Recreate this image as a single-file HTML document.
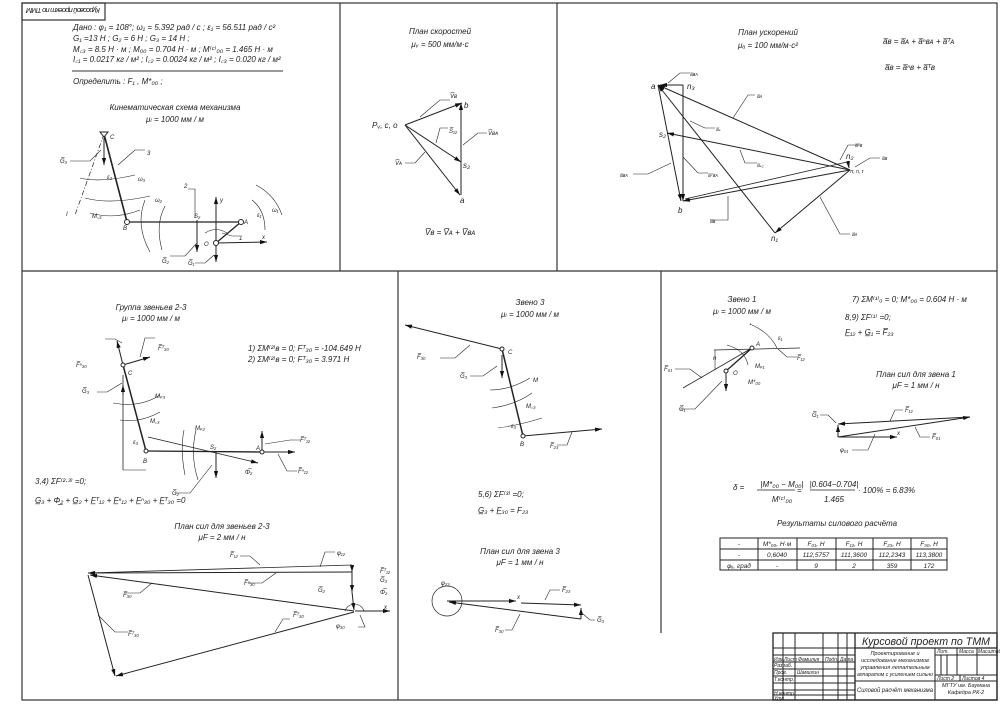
<!DOCTYPE html>
<html><head><meta charset="utf-8"><style>
html,body{margin:0;padding:0;background:#fff}
svg{display:block}
text{font-family:"Liberation Sans","DejaVu Sans",sans-serif;font-style:italic;fill:#222}
</style></head><body>
<svg width="1000" height="704" viewBox="0 0 1000 704" xmlns="http://www.w3.org/2000/svg">
<defs>
<marker id="ar" viewBox="0 0 10 10" refX="10" refY="5" markerWidth="7" markerHeight="7" orient="auto-start-reverse"><path d="M0,2 L10,5 L0,8z" fill="#111"/></marker>
<marker id="as" viewBox="0 0 10 10" refX="10" refY="5" markerWidth="4" markerHeight="4" orient="auto"><path d="M0,2 L10,5 L0,8z" fill="#111"/></marker>
</defs>
<g fill="none" stroke="#333" stroke-width="1.2">
<rect x="22" y="3" width="975" height="697"/>
<line x1="22" y1="271" x2="997" y2="271"/>
<line x1="340" y1="3" x2="340" y2="271"/>
<line x1="557" y1="3" x2="557" y2="271"/>
<line x1="398" y1="271" x2="398" y2="700"/>
<line x1="661" y1="271" x2="661" y2="633"/>
<rect x="22" y="3" width="83" height="17"/>
</g>
<text x="63" y="15" font-size="7.5" text-anchor="middle" textLength="74" transform="rotate(180 63 11.5)">Курсовой проект по ТММ</text>

<!-- top-left text -->
<g font-size="8">
<text x="73" y="30">Дано : φ₁ = 108°; ω₁ = 5.392 рад / с ; ε₁ = 56.511 рад / с²</text>
<text x="73" y="41">G₁ =13 Н ; G₂ = 6 Н ; G₃ = 14 Н ;</text>
<text x="73" y="52">M꜀₃ = 8.5 Н · м ; M₀₀ = 0.704 Н · м ; M⁽ᶜ⁾₀₀ = 1.465 Н · м</text>
<text x="73" y="62">I꜀₁ = 0.0217 кг / м² ; I꜀₂ = 0.0024 кг / м² ; I꜀₃ = 0.020 кг / м²</text>
<text x="73" y="84">Определить : F₁ , M*₀₀ ;</text>
<text x="175" y="110" text-anchor="middle">Кинематическая схема механизма</text>
<text x="175" y="122" text-anchor="middle">μₗ = 1000 мм / м</text>
</g>
<line x1="72" y1="71" x2="283" y2="71" stroke="#333" stroke-width="1"/>
<g fill="none" stroke="#222" stroke-width="1">
<line x1="104" y1="134" x2="127" y2="222" stroke-width="1.6"/>
<line x1="127" y1="222" x2="241" y2="222" stroke-width="1.3"/>
<line x1="216" y1="243" x2="241" y2="222" stroke-width="1.3"/>
<line x1="104" y1="134" x2="75" y2="215" stroke-dasharray="5,2,1,2" stroke-width=".7"/>
<line x1="104" y1="138" x2="104" y2="165" marker-end="url(#ar)"/>
<line x1="197" y1="220" x2="197" y2="252" marker-end="url(#ar)"/>
<line x1="216" y1="243" x2="216" y2="262" marker-end="url(#ar)"/>
<line x1="216" y1="243" x2="216" y2="197" marker-end="url(#ar)"/>
<line x1="216" y1="243" x2="267" y2="242" marker-end="url(#ar)"/>
<path d="M80,178 Q100,183 135,175" stroke-width=".6"/>
<path d="M85,198 Q110,205 150,196" stroke-width=".6"/>
<path d="M90,213 Q115,220 140,210" stroke-width=".6"/>
<path d="M145,200 Q135,225 150,252" stroke-width=".6"/>
<path d="M165,206 Q155,225 162,250" stroke-width=".6"/>
<path d="M252,200 Q265,210 265,230" stroke-width=".6"/>
<path d="M256,185 Q275,195 282,215" stroke-width=".6"/>
<path d="M205,233 Q216,226 227,233" stroke-width=".6"/>
<polyline points="70,161 90,161 101,150" stroke-width=".6"/>
<polyline points="145,150 135,150 118,165" stroke-width=".6"/>
<polyline points="188,189 195,189 195,218" stroke-width=".6"/>
<polyline points="240,236 232,236 222,233" stroke-width=".6"/>
<polyline points="170,256 185,256 197,243" stroke-width=".6"/>
<polyline points="195,263 205,263 214,255" stroke-width=".6"/>
<circle cx="127" cy="222" r="2.5" fill="#fff"/><circle cx="241" cy="222" r="2.5" fill="#fff"/><circle cx="216" cy="243" r="2.5" fill="#fff"/>
<path d="M100,132 L108,132 L104,137z" fill="#fff"/>
</g>
<g font-size="6">
<text x="110" y="139">C</text><text x="147" y="155">3</text><text x="60" y="163">G̅₃</text><text x="66" y="216">I</text>
<text x="92" y="218">M꜀₃</text><text x="123" y="230">B</text><text x="194" y="218">S₂</text><text x="184" y="188">2</text>
<text x="244" y="224">A</text><text x="204" y="246">O</text><text x="239" y="240">1</text><text x="262" y="239">x</text><text x="220" y="202">y</text>
<text x="162" y="263">G̅₂</text><text x="188" y="265">G̅₁</text><text x="272" y="212">ω₁</text><text x="257" y="217">ε₁</text>
<text x="107" y="179">ε₃</text><text x="138" y="181">ω₃</text><text x="155" y="202">ω₂</text>
</g>

<!-- velocity plan -->
<g font-size="8">
<text x="440" y="34" text-anchor="middle">План скоростей</text>
<text x="440" y="47" text-anchor="middle">μᵥ = 500 мм/м·с</text>
<text x="372" y="128">Pᵥ, c, o</text>
<text x="464" y="108">b</text><text x="463" y="168">s₂</text><text x="460" y="203">a</text>
<text x="425" y="235">V̅ʙ = V̅ᴀ + V̅ʙᴀ</text>
</g>
<g font-size="6"><text x="450" y="98">V̅ʙ</text><text x="449" y="133">S̅₁₂</text><text x="488" y="135">V̅ʙᴀ</text><text x="395" y="165">V̅ᴀ</text></g>
<g stroke="#222" fill="none" stroke-width="1">
<line x1="405" y1="125" x2="462" y2="103" marker-end="url(#ar)"/>
<line x1="405" y1="125" x2="461" y2="162" marker-end="url(#ar)"/>
<line x1="405" y1="125" x2="460" y2="195" marker-end="url(#ar)"/>
<line x1="461" y1="195" x2="461" y2="103" marker-end="url(#ar)"/>
<polyline points="450,100 440,100 420,117" stroke-width=".6"/>
<polyline points="448,128 440,128 436,143" stroke-width=".6"/>
<polyline points="487,133 478,133 463,145" stroke-width=".6"/>
<polyline points="405,163 415,163 425,152" stroke-width=".6"/>
</g>

<!-- acceleration plan -->
<g font-size="8">
<text x="768" y="35" text-anchor="middle">План ускорений</text>
<text x="768" y="48" text-anchor="middle">μₐ = 100 мм/м·с²</text>
<text x="883" y="44">a̅ʙ = a̅ᴀ + a̅ⁿʙᴀ + a̅ᵀᴀ</text>
<text x="885" y="70">a̅ʙ = a̅ⁿʙ + a̅ᵀʙ</text>
<text x="651" y="89">a</text><text x="687" y="89">n₃</text><text x="659" y="137">s₂</text>
<text x="678" y="213">b</text><text x="771" y="241">n₁</text><text x="846" y="159">n₂</text>
</g>
<g font-size="5"><text x="850" y="173">π, n, τ</text><text x="690" y="76">a̅ʙᴀ</text><text x="757" y="98">a̅ᴀ</text><text x="716" y="131">a̅ₛ</text>
<text x="620" y="177">a̅ʙᴀ</text><text x="708" y="177">a̅ᵀʙᴀ</text><text x="757" y="167">a̅ₛ₂</text><text x="855" y="147">a̅ᵀʙ</text><text x="882" y="160">a̅ʙ</text>
<text x="710" y="223">a̅ʙ</text><text x="852" y="236">a̅ᴀ</text></g>
<g stroke="#222" fill="none" stroke-width="1">
<line x1="850" y1="170" x2="658" y2="85" marker-end="url(#ar)"/>
<line x1="850" y1="170" x2="667" y2="133" marker-end="url(#ar)"/>
<line x1="850" y1="170" x2="683" y2="201" marker-end="url(#ar)"/>
<line x1="850" y1="170" x2="775" y2="233" marker-end="url(#ar)"/>
<line x1="847" y1="162" x2="685" y2="199" stroke-width=".8"/>
<line x1="775" y1="233" x2="658" y2="85" marker-end="url(#ar)"/>
<line x1="683" y1="85" x2="660" y2="85" marker-end="url(#ar)"/>
<line x1="683" y1="85" x2="683" y2="201" marker-end="url(#ar)"/>
<line x1="658" y1="85" x2="681" y2="201" marker-end="url(#ar)"/>
<line x1="848" y1="162" x2="849" y2="168" marker-end="url(#ar)"/>
<polyline points="690,73 680,73 668,83" stroke-width=".6"/>
<polyline points="755,95 748,95 733,118" stroke-width=".6"/>
<polyline points="715,128 705,128 690,121" stroke-width=".6"/>
<polyline points="633,174 648,174 671,163" stroke-width=".6"/>
<polyline points="708,173 698,173 683,157" stroke-width=".6"/>
<polyline points="757,163 745,163 740,150" stroke-width=".6"/>
<polyline points="860,145 848,145 840,160" stroke-width=".6"/>
<polyline points="880,158 870,158 855,167" stroke-width=".6"/>
<polyline points="710,220 728,220 728,196" stroke-width=".6"/>
<polyline points="850,234 840,234 820,197" stroke-width=".6"/>
</g>

<!-- bottom-left group 2-3 -->
<g font-size="8">
<text x="151" y="310" text-anchor="middle">Группа звеньев 2-3</text>
<text x="151" y="321" text-anchor="middle">μₗ = 1000 мм / м</text>
<text x="248" y="351">1)  ΣM⁽²⁾ʙ = 0; Fᵀ₃₀ = -104.649 Н</text>
<text x="248" y="362">2)  ΣM⁽²⁾ʙ = 0; Fᵀ₃₀ = 3.971 Н</text>
<text x="35" y="484">3,4)  ΣF⁽²·³⁾ =0;</text>
<text x="35" y="503">G̲₃ + Φ̲₂ + G̲₂ + F̲ᵀ₁₂ + F̲ⁿ₁₂ + F̲ⁿ₃₀ + F̲ᵀ₃₀ =0</text>
<text x="222" y="529" text-anchor="middle">План сил для звеньев 2-3</text>
<text x="222" y="540" text-anchor="middle">μF = 2 мм / н</text>
</g>
<g stroke="#222" fill="none" stroke-width="1">
<line x1="123" y1="365" x2="146" y2="451" stroke-width="1.5"/>
<line x1="146" y1="451" x2="262" y2="452" stroke-width="1.3"/>
<line x1="148" y1="437" x2="250" y2="461" stroke-width=".7"/>
<line x1="123" y1="365" x2="117" y2="341" marker-end="url(#ar)"/>
<line x1="123" y1="365" x2="150" y2="357" marker-end="url(#ar)"/>
<line x1="123" y1="375" x2="123" y2="470" stroke-width=".8"/>
<line x1="123" y1="470" x2="146" y2="470" stroke-width=".6"/>
<line x1="123" y1="395" x2="123" y2="385" marker-end="url(#ar)"/>
<line x1="216" y1="452" x2="216" y2="478" marker-end="url(#ar)"/>
<line x1="262" y1="452" x2="262" y2="431" marker-end="url(#ar)"/>
<line x1="262" y1="452" x2="295" y2="452" marker-end="url(#ar)"/>
<line x1="250" y1="461" x2="258" y2="463" marker-end="url(#ar)"/>
<path d="M113,403 Q140,408 160,395" stroke-width=".6"/>
<path d="M120,420 Q140,423 160,412" stroke-width=".6"/>
<path d="M184,430 Q180,450 185,475" stroke-width=".6"/>
<path d="M196,430 Q190,455 198,480" stroke-width=".6"/>
<polyline points="105,339 115,339 122,343" stroke-width=".6"/><polyline points="155,338 145,338 140,357" stroke-width=".6"/>
<polyline points="97,392 107,392 122,383" stroke-width=".6"/><polyline points="300,440 290,440 265,444" stroke-width=".6"/>
<polyline points="297,471 287,471 278,454" stroke-width=".6"/><polyline points="175,493 190,493 212,465" stroke-width=".6"/>
<circle cx="123" cy="365" r="2" fill="#fff"/><circle cx="146" cy="451" r="2" fill="#fff"/><circle cx="262" cy="452" r="2" fill="#fff"/>
</g>
<g font-size="6"><text x="158" y="350">F̅ᵀ₃₀</text><text x="76" y="367">F̅ⁿ₃₀</text><text x="128" y="375">C</text><text x="82" y="393">G̅₃</text>
<text x="155" y="398">Mₚ₃</text><text x="150" y="423">M꜀₃</text><text x="195" y="430">Mₚ₂</text><text x="133" y="444">ε₃</text><text x="143" y="463">B</text>
<text x="210" y="449">S₂</text><text x="256" y="450">A</text><text x="300" y="442">F̅ᵀ₁₂</text><text x="298" y="473">F̅ⁿ₁₂</text><text x="172" y="495">G̅₂</text><text x="245" y="474">Φ̅₂</text></g>
<!-- force plan 2-3 -->
<g stroke="#222" fill="none" stroke-width="1">
<line x1="88" y1="573" x2="352" y2="565" stroke-width=".8"/>
<line x1="352" y1="572" x2="88" y2="573" marker-end="url(#ar)"/>
<line x1="352" y1="565" x2="352" y2="572" marker-end="url(#ar)"/>
<line x1="352" y1="572" x2="352" y2="592" marker-end="url(#ar)"/>
<line x1="352" y1="592" x2="354" y2="610" marker-end="url(#ar)"/>
<line x1="354" y1="611" x2="90" y2="575" marker-end="url(#ar)"/>
<line x1="355" y1="611" x2="390" y2="611" marker-end="url(#ar)"/>
<line x1="88" y1="575" x2="115" y2="676" marker-end="url(#ar)"/>
<line x1="354" y1="612" x2="116" y2="676" marker-end="url(#ar)"/>
<path d="M345,611 A10,10 0 0 1 364,611" stroke-width=".6"/>
<polyline points="240,556 250,556 260,565" stroke-width=".6"/><polyline points="335,552 325,552 320,567" stroke-width=".6"/>
<polyline points="248,583 262,583 276,573" stroke-width=".6"/><polyline points="125,593 140,593 152,583" stroke-width=".6"/>
<polyline points="128,632 115,632 98,615" stroke-width=".6"/><polyline points="290,619 283,619 275,632" stroke-width=".6"/>
<polyline points="358,627 365,627 360,615" stroke-width=".6"/>
</g>
<g font-size="6"><text x="230" y="557">F̅₁₂</text><text x="337" y="555">φ₁₂</text><text x="244" y="585">F̅ⁿ₃₀</text><text x="123" y="597">F̅₃₀</text>
<text x="128" y="636">F̅ᵀ₃₀</text><text x="293" y="617">F̅ᵀ₃₀</text><text x="380" y="573">F̅ᵀ₁₂</text><text x="380" y="582">G̅₃</text><text x="380" y="594">Φ̅₂</text>
<text x="318" y="592">G̅₂</text><text x="384" y="609">x</text><text x="336" y="628">φ₃₀</text></g>

<!-- bottom-middle link 3 -->
<g font-size="8">
<text x="530" y="305" text-anchor="middle">Звено 3</text>
<text x="530" y="317" text-anchor="middle">μₗ = 1000 мм / м</text>
<text x="478" y="497">5,6)  ΣF⁽³⁾ =0;</text>
<text x="478" y="513">G̲₃ + F̲₃₀ = F₂₃</text>
<text x="520" y="554" text-anchor="middle">План сил для звена 3</text>
<text x="520" y="565" text-anchor="middle">μF = 1 мм / н</text>
</g>
<g stroke="#222" fill="none" stroke-width="1">
<line x1="502" y1="349" x2="523" y2="436" stroke-width="1.5"/>
<line x1="502" y1="349" x2="405" y2="325" marker-end="url(#ar)"/>
<line x1="523" y1="436" x2="602" y2="429" marker-end="url(#ar)"/>
<line x1="502" y1="355" x2="502" y2="378" marker-end="url(#ar)"/>
<path d="M490,390 Q510,390 530,378" stroke-width=".6"/><path d="M492,408 Q515,405 532,393" stroke-width=".6"/><path d="M498,428 Q520,425 542,418" stroke-width=".6"/>
<polyline points="440,358 455,358 470,345" stroke-width=".6"/><polyline points="470,376 483,376 497,366" stroke-width=".6"/>
<polyline points="557,445 567,445 572,432" stroke-width=".6"/>
<circle cx="502" cy="349" r="2" fill="#fff"/><circle cx="523" cy="436" r="2" fill="#fff"/>
<circle cx="447" cy="601" r="15" stroke-width=".7"/>
<line x1="447" y1="601" x2="516" y2="601" marker-end="url(#ar)"/>
<line x1="521" y1="603" x2="581" y2="605" marker-end="url(#ar)"/>
<line x1="581" y1="619" x2="581" y2="608" marker-end="url(#ar)"/>
<line x1="581" y1="619" x2="449" y2="602" marker-end="url(#ar)"/>
<polyline points="560,590 550,590 545,600" stroke-width=".6"/><polyline points="595,620 590,620 583,614" stroke-width=".6"/>
<polyline points="505,630 512,630 520,614" stroke-width=".6"/>
</g>
<g font-size="6"><text x="417" y="359">F̅₃₀</text><text x="460" y="378">G̅₃</text><text x="508" y="354">C</text><text x="533" y="382">M</text><text x="526" y="408">M꜀₃</text>
<text x="511" y="428">ε₃</text><text x="520" y="446">B</text><text x="550" y="448">F̅₂₃</text><text x="517" y="599">x</text><text x="562" y="592">F̅₂₃</text>
<text x="597" y="622">G̅₃</text><text x="495" y="632">F̅₃₀</text><text x="441" y="585">φ₂₃</text></g>

<!-- bottom-right link 1 -->
<g font-size="8">
<text x="742" y="302" text-anchor="middle">Звено 1</text>
<text x="742" y="314" text-anchor="middle">μₗ = 1000 мм / м</text>
<text x="852" y="302">7)  ΣM⁽¹⁾ₒ = 0; M*₀₀ = 0.604  Н · м</text>
<text x="845" y="320">8,9)  ΣF⁽¹⁾ =0;</text>
<text x="845" y="335">F̲₁₂ + G̲₁ = F̅₂₃</text>
<text x="916" y="377" text-anchor="middle">План сил для звена 1</text>
<text x="916" y="388" text-anchor="middle">μF = 1 мм / н</text>
<text x="733" y="490">δ = </text>
<text x="782" y="487" text-anchor="middle">|M*₀₀ − M₀₀|</text>
<text x="782" y="502" text-anchor="middle">M⁽ᶜ⁾₀₀</text>
<text x="797" y="493">=</text>
<text x="834" y="487" text-anchor="middle">|0.604−0.704|</text>
<text x="834" y="502" text-anchor="middle">1.465</text>
<text x="858" y="493">· 100% = 6.83%</text>
<text x="837" y="526" text-anchor="middle">Результаты силового расчёта</text>
</g>
<line x1="757" y1="490" x2="795" y2="490" stroke="#222" stroke-width=".7"/>
<line x1="810" y1="490" x2="855" y2="490" stroke="#222" stroke-width=".7"/>
<g stroke="#222" fill="none" stroke-width="1">
<line x1="714" y1="350" x2="800" y2="348" stroke-width=".8"/>
<line x1="683" y1="388" x2="752" y2="348" stroke-width=".8"/>
<line x1="726" y1="371" x2="752" y2="348" stroke-width="1.3"/>
<line x1="715" y1="350" x2="715" y2="370" stroke-width=".6"/>
<line x1="726" y1="371" x2="726" y2="391" marker-end="url(#ar)"/>
<path d="M752,325 Q770,333 777,348" stroke-width=".6" marker-start="url(#as)"/>
<path d="M727,345 Q745,350 748,365" stroke-width=".6"/>
<polyline points="675,369 690,369 702,378" stroke-width=".6"/><polyline points="797,357 787,357 778,349" stroke-width=".6"/>
<polyline points="680,409 695,409 722,381" stroke-width=".6"/>
<circle cx="752" cy="348" r="2" fill="#fff"/><circle cx="726" cy="371" r="2" fill="#fff"/>
<line x1="970" y1="417" x2="838" y2="424" marker-end="url(#ar)"/>
<line x1="838" y1="437" x2="838" y2="425" marker-end="url(#ar)"/>
<line x1="838" y1="437" x2="897" y2="437" marker-end="url(#ar)"/>
<line x1="838" y1="437" x2="970" y2="417" marker-end="url(#ar)"/>
<polyline points="820,415 828,415 836,423" stroke-width=".6"/><polyline points="903,410 895,410 890,421" stroke-width=".6"/>
<polyline points="930,437 920,437 915,427" stroke-width=".6"/><polyline points="852,450 868,450 875,434" stroke-width=".6"/>
</g>
<g font-size="6"><text x="664" y="371">F̅₀₁</text><text x="797" y="360">F̅₁₂</text><text x="756" y="346">A</text><text x="733" y="375">O</text><text x="713" y="360">n</text>
<text x="755" y="368">Mₚ₁</text><text x="748" y="384">M*₀₀</text><text x="778" y="340">ε₁</text><text x="679" y="411">G̅₁</text>
<text x="812" y="417">G̅₁</text><text x="905" y="412">F̅₁₂</text><text x="932" y="439">F̅₀₁</text><text x="897" y="435">x</text><text x="840" y="452">φ₀₁</text></g>
<!-- table -->
<g stroke="#222" stroke-width="1" fill="none">
<rect x="720" y="538" width="227" height="32"/>
<line x1="720" y1="549" x2="947" y2="549"/><line x1="720" y1="560" x2="947" y2="560"/>
<line x1="758" y1="538" x2="758" y2="570"/><line x1="797" y1="538" x2="797" y2="570"/><line x1="836" y1="538" x2="836" y2="570"/>
<line x1="873" y1="538" x2="873" y2="570"/><line x1="911" y1="538" x2="911" y2="570"/>
</g>
<g font-size="6.5" text-anchor="middle">
<text x="739" y="546">-</text><text x="777" y="546">M*₀₀, Н·м</text><text x="816" y="546">F₀₁, Н</text><text x="854" y="546">F₁₂, Н</text><text x="892" y="546">F₂₃, Н</text><text x="929" y="546">F₃₀, Н</text>
<text x="739" y="557">-</text><text x="777" y="557">0,6040</text><text x="816" y="557">112,5757</text><text x="854" y="557">111,3600</text><text x="892" y="557">112,2343</text><text x="929" y="557">113,3800</text>
<text x="739" y="568">φᵢⱼ, град</text><text x="777" y="568">-</text><text x="816" y="568">9</text><text x="854" y="568">2</text><text x="892" y="568">359</text><text x="929" y="568">172</text>
</g>

<!-- title block -->
<g stroke="#222" stroke-width="1" fill="none">
<rect x="773" y="633" width="224" height="67" stroke-width="1.3"/>
<line x1="855" y1="633" x2="855" y2="700" stroke-width="1.3"/>
<line x1="855" y1="648" x2="997" y2="648" stroke-width="1.3"/>
<line x1="935" y1="648" x2="935" y2="700"/>
<line x1="935" y1="655" x2="997" y2="655"/>
<line x1="935" y1="675" x2="997" y2="675"/>
<line x1="935" y1="681" x2="997" y2="681"/>
<line x1="855" y1="681" x2="935" y2="681"/>
<line x1="957" y1="648" x2="957" y2="675"/><line x1="977" y1="648" x2="977" y2="675"/>
<line x1="941" y1="655" x2="941" y2="675"/><line x1="947" y1="655" x2="947" y2="675"/>
<line x1="960" y1="675" x2="960" y2="681"/>
<line x1="783" y1="633" x2="783" y2="700"/><line x1="795" y1="633" x2="795" y2="700"/>
<line x1="823" y1="633" x2="823" y2="700"/><line x1="838" y1="633" x2="838" y2="700"/><line x1="847" y1="633" x2="847" y2="700"/>
<line x1="773" y1="648" x2="855" y2="648"/><line x1="773" y1="655" x2="855" y2="655"/>
<line x1="773" y1="662" x2="855" y2="662"/><line x1="773" y1="669" x2="855" y2="669"/>
<line x1="773" y1="676" x2="855" y2="676"/><line x1="773" y1="683" x2="855" y2="683"/>
<line x1="773" y1="690" x2="855" y2="690"/><line x1="773" y1="695" x2="855" y2="695"/>
</g>
<text x="926" y="645" font-size="11" text-anchor="middle" textLength="128" lengthAdjust="spacingAndGlyphs">Курсовой проект по ТММ</text>
<g font-size="5">
<text x="774" y="661">Изм.</text><text x="784" y="661">Лист</text><text x="798" y="661">Фамилия</text><text x="825" y="661">Подп.</text><text x="840" y="661">Дата</text>
<text x="774" y="667">Разраб.</text><text x="774" y="674">Пров.</text><text x="797" y="674">Шамилин</text><text x="774" y="681">Т.контр.</text>
<text x="774" y="695">Н.контр.</text><text x="774" y="700">Утв.</text>
<text x="937" y="653">Лит.</text><text x="959" y="653">Масса</text><text x="978" y="653">Масштаб</text>
<text x="937" y="680">Лист 2</text><text x="962" y="680">Листов 4</text>
</g>
<g font-size="5.5" text-anchor="middle">
<text x="895" y="655">Проектирование и</text><text x="895" y="662">исследование механизмов</text>
<text x="895" y="669">управления летательным</text><text x="895" y="676" textLength="76" lengthAdjust="spacingAndGlyphs">аппаратом с усилением сильно</text>
<text x="966" y="687">МГТУ им. Баумана</text><text x="966" y="694">Кафедра РК-2</text>
</g>
<text x="895" y="692" font-size="6.5" text-anchor="middle" textLength="76" lengthAdjust="spacingAndGlyphs">Силовой расчёт механизма</text>
</svg>
</body></html>
